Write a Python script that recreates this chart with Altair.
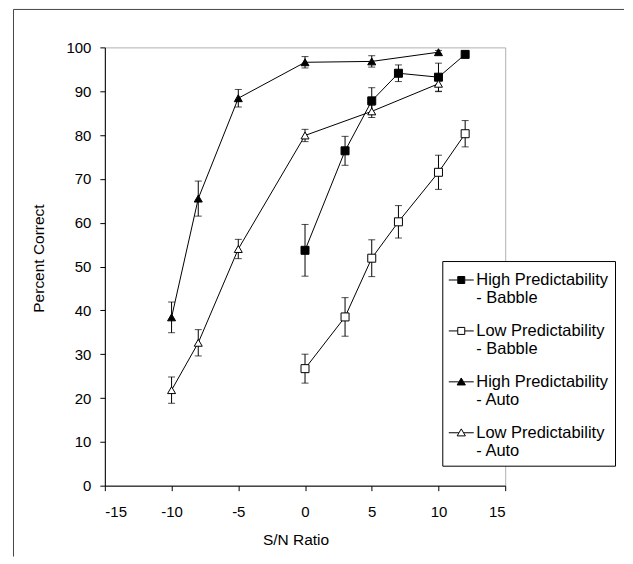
import altair as alt
import pandas as pd

# ---- data ----
babble_x = [0, 3, 5, 7, 10, 12]
auto_x = [-10, -8, -5, 0, 5, 10]

hp_babble = [53.7, 76.4, 87.8, 94.1, 93.2, 98.4]
hp_babble_err = [5.9, 3.3, 3.0, 1.9, 3.2, 0.6]
lp_babble = [26.7, 38.5, 51.9, 60.2, 71.5, 80.3]
lp_babble_err = [3.3, 4.4, 4.2, 3.7, 3.9, 3.0]
hp_auto = [38.4, 65.5, 88.4, 96.6, 96.8, 98.9]
hp_auto_err = [3.5, 4.0, 2.0, 1.3, 1.3, 0.4]
lp_auto = [21.8, 32.6, 54.0, 79.9, 85.4, 91.7]
lp_auto_err = [3.0, 3.0, 2.2, 1.4, 1.4, 1.8]

series_names = [
    "High Predictability|- Babble",
    "Low Predictability|- Babble",
    "High Predictability|- Auto",
    "Low Predictability|- Auto",
]
x_ticks = [-15, -10, -5, 0, 5, 10, 15]
y_ticks = [0, 10, 20, 30, 40, 50, 60, 70, 80, 90, 100]

rows = []
for name, xs, ys, es in zip(
    series_names,
    [babble_x, babble_x, auto_x, auto_x],
    [hp_babble, lp_babble, hp_auto, lp_auto],
    [hp_babble_err, lp_babble_err, hp_auto_err, lp_auto_err],
):
    for xv, yv, ev in zip(xs, ys, es):
        rows.append({"series": name, "snr": xv, "pc": yv, "lo": yv - ev, "hi": yv + ev})
df = pd.DataFrame(rows)

FONT = "Liberation Sans"

x_enc = alt.X(
    "snr:Q",
    title="S/N Ratio",
    scale=alt.Scale(domain=[-15, 15], nice=False, zero=False),
    axis=alt.Axis(
        values=x_ticks,
        labelExpr="datum.value + ''",
        labelPadding=14,
        titleX=191,
        titleY=59,
        titleBaseline="alphabetic",
    ),
)


def y_enc(field):
    return alt.Y(
        field,
        title="Percent Correct",
        scale=alt.Scale(domain=[0, 100], nice=False),
        axis=alt.Axis(
            values=y_ticks,
            labelPadding=9,
            titleX=-61,
            titleY=211,
            titleAngle=270,
            titleBaseline="alphabetic",
        ),
    )


base = alt.Chart(df)

lines = base.mark_line(color="black", strokeWidth=1).encode(
    x=x_enc, y=y_enc("pc:Q"), detail="series:N"
)
err_rules = base.mark_rule(color="black", strokeWidth=1).encode(
    x=x_enc, y=y_enc("lo:Q"), y2="hi:Q"
)
cap_lo = base.mark_tick(orient="horizontal", size=7, thickness=1, color="black").encode(
    x=x_enc, y=y_enc("lo:Q")
)
cap_hi = base.mark_tick(orient="horizontal", size=7, thickness=1, color="black").encode(
    x=x_enc, y=y_enc("hi:Q")
)

points = base.mark_point(filled=True, stroke="black", strokeWidth=1, opacity=1).encode(
    x=x_enc,
    y=y_enc("pc:Q"),
    shape=alt.Shape(
        "series:N",
        scale=alt.Scale(domain=series_names,
                        range=["square", "square", "triangle-up", "triangle-up"]),
        legend=None,
    ),
    fill=alt.Fill(
        "series:N",
        scale=alt.Scale(domain=series_names, range=["black", "white", "black", "white"]),
        legend=None,
    ),
    size=alt.Size(
        "series:N",
        scale=alt.Scale(domain=series_names, range=[64, 64, 80, 80]),
        legend=None,
    ),
)

# legend symbols: a short line with the marker in its middle
dy = 0.0
sq = 0.28
sq_path = (f"M-1,{dy}H{-sq} M{sq},{dy}H1 "
           f"M{-sq},{dy - sq}H{sq}V{dy + sq}H{-sq}Z")
tr_path = (f"M-1,{dy}H-0.2 M0.2,{dy}H1 "
           f"M0,{dy - 0.31}L0.33,{dy + 0.25}L-0.33,{dy + 0.25}Z")

legend = alt.Legend(
    title=None,
    orient="none",
    direction="vertical",
    legendX=338,
    legendY=214,
    labelExpr="split(datum.label, '|')",
    labelFont=FONT,
    labelFontSize=16.5,
    labelColor="black",
    labelLimit=400,
    labelOffset=2,
    symbolSize=625,
    symbolStrokeWidth=1,
    symbolOpacity=1,
    strokeColor="black",
    fillColor="white",
    padding=6,
    rowPadding=11,
)

legend_layer = base.transform_filter("false").mark_point(
    filled=True, strokeWidth=1, opacity=1
).encode(
    x=x_enc,
    y=y_enc("pc:Q"),
    shape=alt.Shape(
        "series:N",
        scale=alt.Scale(domain=series_names, range=[sq_path, sq_path, tr_path, tr_path]),
        legend=legend,
    ),
    fill=alt.Fill(
        "series:N",
        scale=alt.Scale(domain=series_names, range=["black", "white", "black", "white"]),
        legend=legend,
    ),
    stroke=alt.Stroke(
        "series:N",
        scale=alt.Scale(domain=series_names, range=["black", "black", "black", "black"]),
        legend=legend,
    ),
)

frame_df = pd.DataFrame({"a": [0]})
frame_left = alt.Chart(frame_df).mark_rule(color="#444444", strokeWidth=1).encode(
    x=alt.value(-91.5), y=alt.value(-38), y2=alt.value(510)
)
frame_top = alt.Chart(frame_df).mark_rule(color="#444444", strokeWidth=1).encode(
    x=alt.value(-91.5), x2=alt.value(520), y=alt.value(-38)
)

chart = (
    alt.layer(frame_left, frame_top, lines, err_rules, cap_lo, cap_hi, points, legend_layer)
    .resolve_scale(shape="independent", fill="independent", size="independent",
                   stroke="independent")
    .properties(
        width=401,
        height=439,
        padding={"left": 5, "top": 0, "right": 0, "bottom": 0},
        background="white",
    )
    .configure_view(stroke="#b0b0b0", strokeWidth=1)
    .configure_axis(
        labelFont=FONT,
        labelFontSize=15,
        labelColor="black",
        titleFont=FONT,
        titleFontSize=15.5,
        titleFontWeight="normal",
        titleColor="black",
        domainColor="black",
        domainWidth=1,
        tickColor="black",
        tickSize=5,
        grid=False,
    )
)

chart.save("out.html", embed_options={"renderer": "svg", "actions": False})
